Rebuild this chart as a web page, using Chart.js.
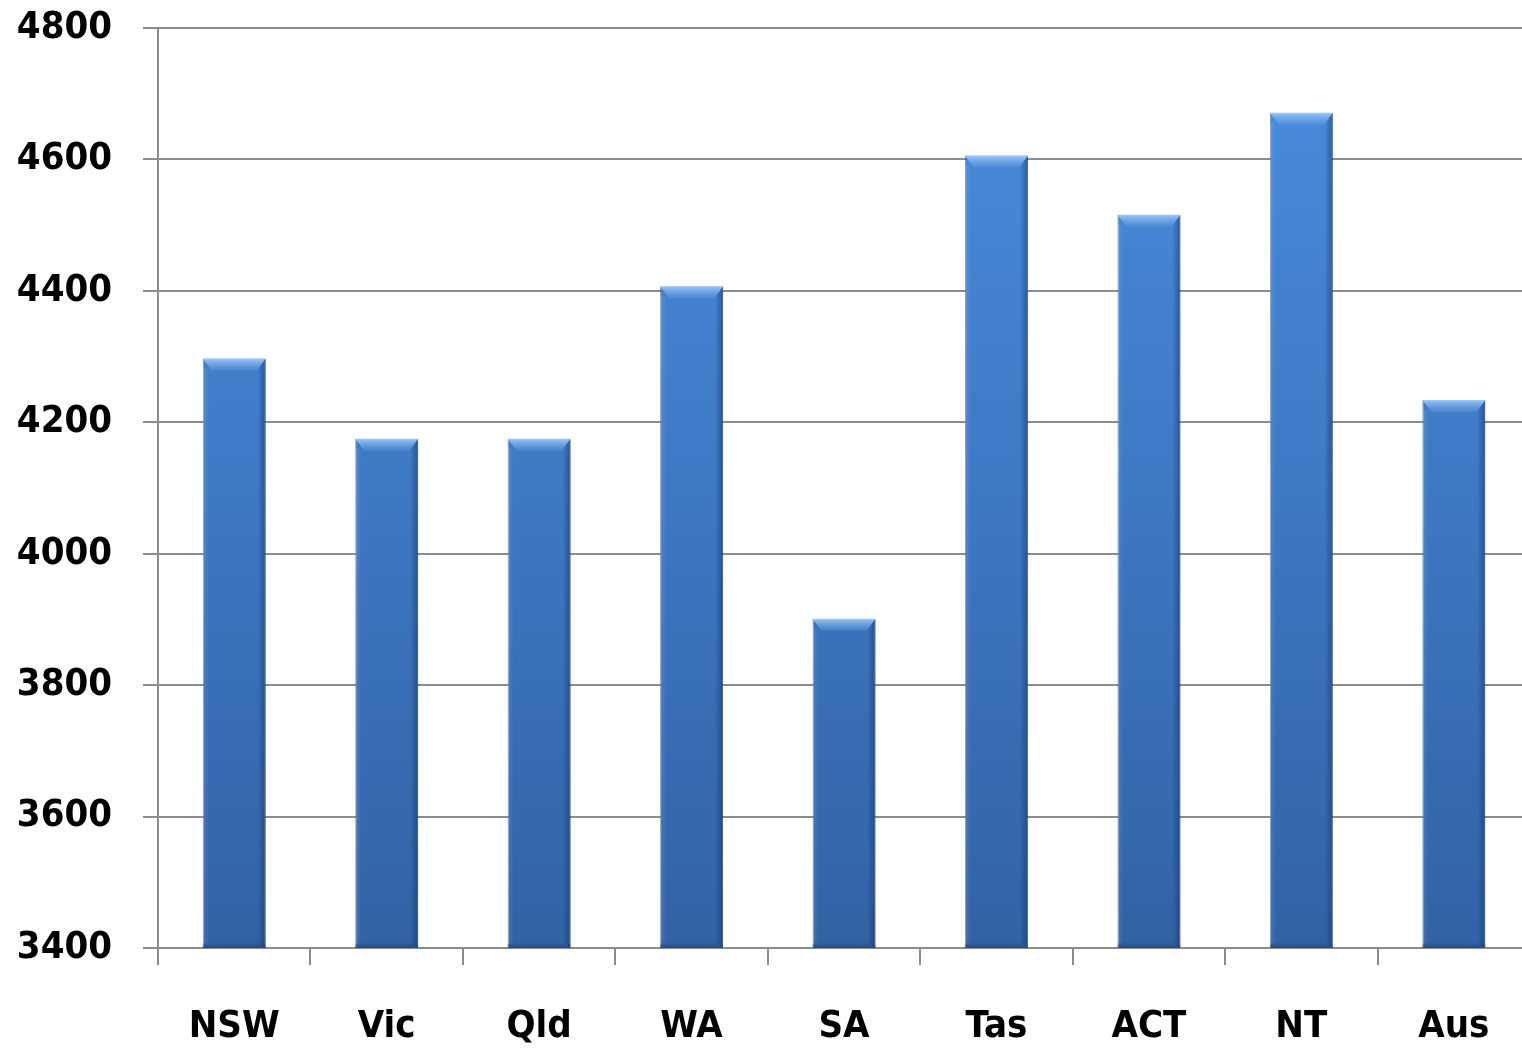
<!DOCTYPE html>
<html>
<head>
<meta charset="utf-8">
<script src="https://cdn.jsdelivr.net/npm/chart.js@4.4.0/dist/chart.umd.min.js"></script>
<style>
  html, body { margin: 0; padding: 0; background: #fff; overflow: hidden; }
  #wrap { width: 1522px; height: 1048px; overflow: hidden; }
</style>
</head>
<body>
<div id="wrap"><canvas id="barChart" width="1530" height="1048"></canvas></div>
<script>
const regions = ["NSW", "Vic", "Qld", "WA", "SA", "Tas", "ACT", "NT", "Aus"];
const values = [4297, 4175, 4175, 4407, 3901, 4606, 4516, 4671, 4234];
const yTicks = [3400, 3600, 3800, 4000, 4200, 4400, 4600, 4800];

// vertical shading for the bars
function barFill(context) {
  const chart = context.chart;
  const area = chart.chartArea;
  if (!area) return '#3f7cc8';
  const g = chart.ctx.createLinearGradient(0, area.top, 0, area.bottom);
  g.addColorStop(0, '#4a8ddd');
  g.addColorStop(0.5, '#3e79c4');
  g.addColorStop(1, '#3262a4');
  return g;
}

// bevel look: light cap on top, dark right edge
const bevelPlugin = {
  id: 'bevel',
  afterDatasetsDraw(chart) {
    const ctx = chart.ctx;
    const area = chart.chartArea;
    chart.getDatasetMeta(0).data.forEach(bar => {
      const left = bar.x - bar.width / 2;
      const right = bar.x + bar.width / 2;
      const top = bar.y;
      const bottom = Math.min(bar.base, area.bottom);
      ctx.save();
      ctx.beginPath();
      ctx.rect(area.left, area.top, area.right - area.left, area.bottom - area.top);
      ctx.clip();
      // top cap
      const cap = ctx.createLinearGradient(0, top, 0, top + 12);
      cap.addColorStop(0, 'rgba(160,205,250,0.95)');
      cap.addColorStop(1, 'rgba(110,165,230,0.25)');
      ctx.fillStyle = cap;
      ctx.beginPath();
      ctx.moveTo(left, top);
      ctx.lineTo(right, top);
      ctx.lineTo(right - 9, top + 12);
      ctx.lineTo(left + 9, top + 12);
      ctx.closePath();
      ctx.fill();
      // right dark edge
      const edge = ctx.createLinearGradient(right - 8, 0, right, 0);
      edge.addColorStop(0, 'rgba(20,50,100,0)');
      edge.addColorStop(1, 'rgba(20,50,100,0.55)');
      ctx.fillStyle = edge;
      ctx.beginPath();
      ctx.moveTo(right, top);
      ctx.lineTo(right, bottom);
      ctx.lineTo(right - 8, bottom - 6);
      ctx.lineTo(right - 8, top + 12);
      ctx.closePath();
      ctx.fill();
      // left light edge
      const ledge = ctx.createLinearGradient(left, 0, left + 6, 0);
      ledge.addColorStop(0, 'rgba(255,255,255,0.12)');
      ledge.addColorStop(1, 'rgba(255,255,255,0)');
      ctx.fillStyle = ledge;
      ctx.fillRect(left, top + 10, 6, bottom - top - 14);
      // bottom dark
      const bot = ctx.createLinearGradient(0, bottom - 6, 0, bottom);
      bot.addColorStop(0, 'rgba(20,50,100,0)');
      bot.addColorStop(1, 'rgba(20,50,100,0.45)');
      ctx.fillStyle = bot;
      ctx.fillRect(left, bottom - 6, bar.width, 6);
      ctx.restore();
    });
  }
};

const tickFont = { family: '"DejaVu Sans Condensed", "DejaVu Sans", sans-serif', size: 38, weight: 'bold' };

new Chart(document.getElementById('barChart').getContext('2d'), {
  type: 'bar',
  data: {
    labels: regions,
    datasets: [{
      data: values,
      backgroundColor: barFill,
      borderColor: 'rgba(40,80,140,0.6)',
      borderWidth: 1,
      categoryPercentage: 1,
      barPercentage: 0.413
    }]
  },
  options: {
    responsive: false,
    animation: false,
    layout: { padding: { top: 28, right: 0, left: 0, bottom: 0 } },
    plugins: { legend: { display: false }, tooltip: { enabled: false } },
    scales: {
      y: {
        min: 3400,
        max: 4800,
        afterBuildTicks(axis) {
          axis.ticks = yTicks.map(v => ({ value: v }));
        },
        afterFit(axis) {
          axis.width = 158;
          axis.paddingTop = 0;
          axis.paddingBottom = 0;
        },
        border: { color: '#8c8c8c', width: 2 },
        grid: { color: '#8c8c8c', lineWidth: 2, tickLength: 15 },
        ticks: { color: '#000', font: tickFont, padding: 31, callback: v => String(v) }
      },
      x: {
        afterFit(axis) {
          axis.height = 100;
          axis.paddingLeft = 0;
          axis.paddingRight = 0;
        },
        border: { color: '#8c8c8c', width: 2 },
        grid: { display: true, offset: true, drawOnChartArea: false, color: '#8c8c8c', lineWidth: 2, tickLength: 17 },
        ticks: { color: '#000', font: tickFont, padding: 39, maxRotation: 0 }
      }
    }
  },
  plugins: [bevelPlugin]
});
</script>
</body>
</html>
